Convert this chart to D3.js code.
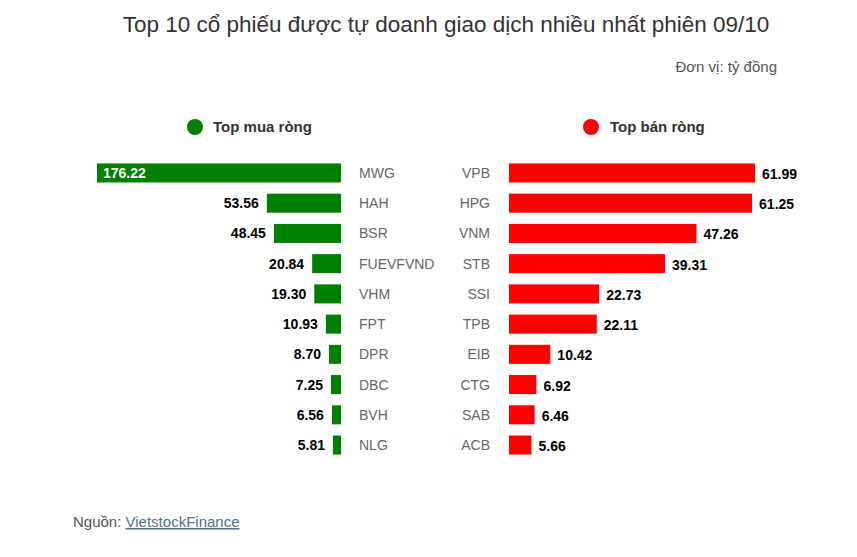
<!DOCTYPE html>
<html><head><meta charset="utf-8">
<script src="https://cdn.jsdelivr.net/npm/d3@7"></script>
<style>body{margin:0;background:#fff;font-family:"Liberation Sans",Arial,sans-serif;}</style>
</head><body>
<svg id="c" width="857" height="557"></svg>
<script>
const buyTickers = ["MWG","HAH","BSR","FUEVFVND","VHM","FPT","DPR","DBC","BVH","NLG"];
const buyValues = [176.22,53.56,48.45,20.84,19.30,10.93,8.70,7.25,6.56,5.81];
const sellTickers = ["VPB","HPG","VNM","STB","SSI","TPB","EIB","CTG","SAB","ACB"];
const sellValues = [61.99,61.25,47.26,39.31,22.73,22.11,10.42,6.92,6.46,5.66];
const titleText = "Top 10 cổ phiếu được tự doanh giao dịch nhiều nhất phiên 09/10";
const unitText = "Đơn vị: tỷ đồng";
const legendBuy = "Top mua ròng", legendSell = "Top bán ròng";

const svg = d3.select("#c");
const green = "#008000", red = "#ff0000";

svg.append("text").attr("x",446).attr("y",32).attr("text-anchor","middle")
  .attr("font-size",22.5).attr("fill","#333").text(titleText);
svg.append("text").attr("x",777).attr("y",72).attr("text-anchor","end")
  .attr("font-size",15).attr("fill","#555").text(unitText);

// legend
svg.append("circle").attr("cx",195).attr("cy",127).attr("r",8).attr("fill",green);
svg.append("text").attr("x",213).attr("y",132).attr("font-size",15).attr("font-weight","bold").attr("fill","#333").text(legendBuy);
svg.append("circle").attr("cx",591).attr("cy",127).attr("r",8).attr("fill",red);
svg.append("text").attr("x",610).attr("y",132).attr("font-size",15).attr("font-weight","bold").attr("fill","#333").text(legendSell);

const y = d3.scaleBand().domain(d3.range(10)).range([158,460]).paddingInner(0.37).paddingOuter(0.18);
const xL = d3.scaleLinear().domain([0,176.22]).range([0,244]);
const xR = d3.scaleLinear().domain([0,61.99]).range([0,246]);
const lx = 341, rx = 509;

const gL = svg.append("g");
buyValues.forEach((v,i)=>{
  const w = xL(v), yy = y(i), h = y.bandwidth();
  gL.append("rect").attr("x",lx-w).attr("y",yy).attr("width",w).attr("height",h).attr("fill",green);
  const inside = i===0;
  gL.append("text").attr("x", inside ? lx-w+6 : lx-w-8).attr("y",yy+h/2+5)
    .attr("text-anchor", inside ? "start":"end").attr("font-size",14).attr("font-weight","bold")
    .attr("fill", inside ? "#fff":"#000").text(v.toFixed(2));
  gL.append("text").attr("x",359).attr("y",yy+h/2+5).attr("font-size",14).attr("fill","#666").text(buyTickers[i]);
});
const gR = svg.append("g");
sellValues.forEach((v,i)=>{
  const w = xR(v), yy = y(i), h = y.bandwidth();
  gR.append("rect").attr("x",rx).attr("y",yy).attr("width",w).attr("height",h).attr("fill",red);
  gR.append("text").attr("x",rx+w+7).attr("y",yy+h/2+6).attr("font-size",14).attr("font-weight","bold")
    .attr("fill","#000").text(v.toFixed(2));
  gR.append("text").attr("x",490).attr("y",yy+h/2+5).attr("text-anchor","end").attr("font-size",14).attr("fill","#666").text(sellTickers[i]);
});

const f = svg.append("text").attr("x",73).attr("y",527).attr("font-size",15).attr("fill","#555");
f.append("tspan").text("Nguồn: ");
f.append("tspan").attr("fill","#4f7390").attr("text-decoration","underline").text("VietstockFinance");
</script>
</body></html>
